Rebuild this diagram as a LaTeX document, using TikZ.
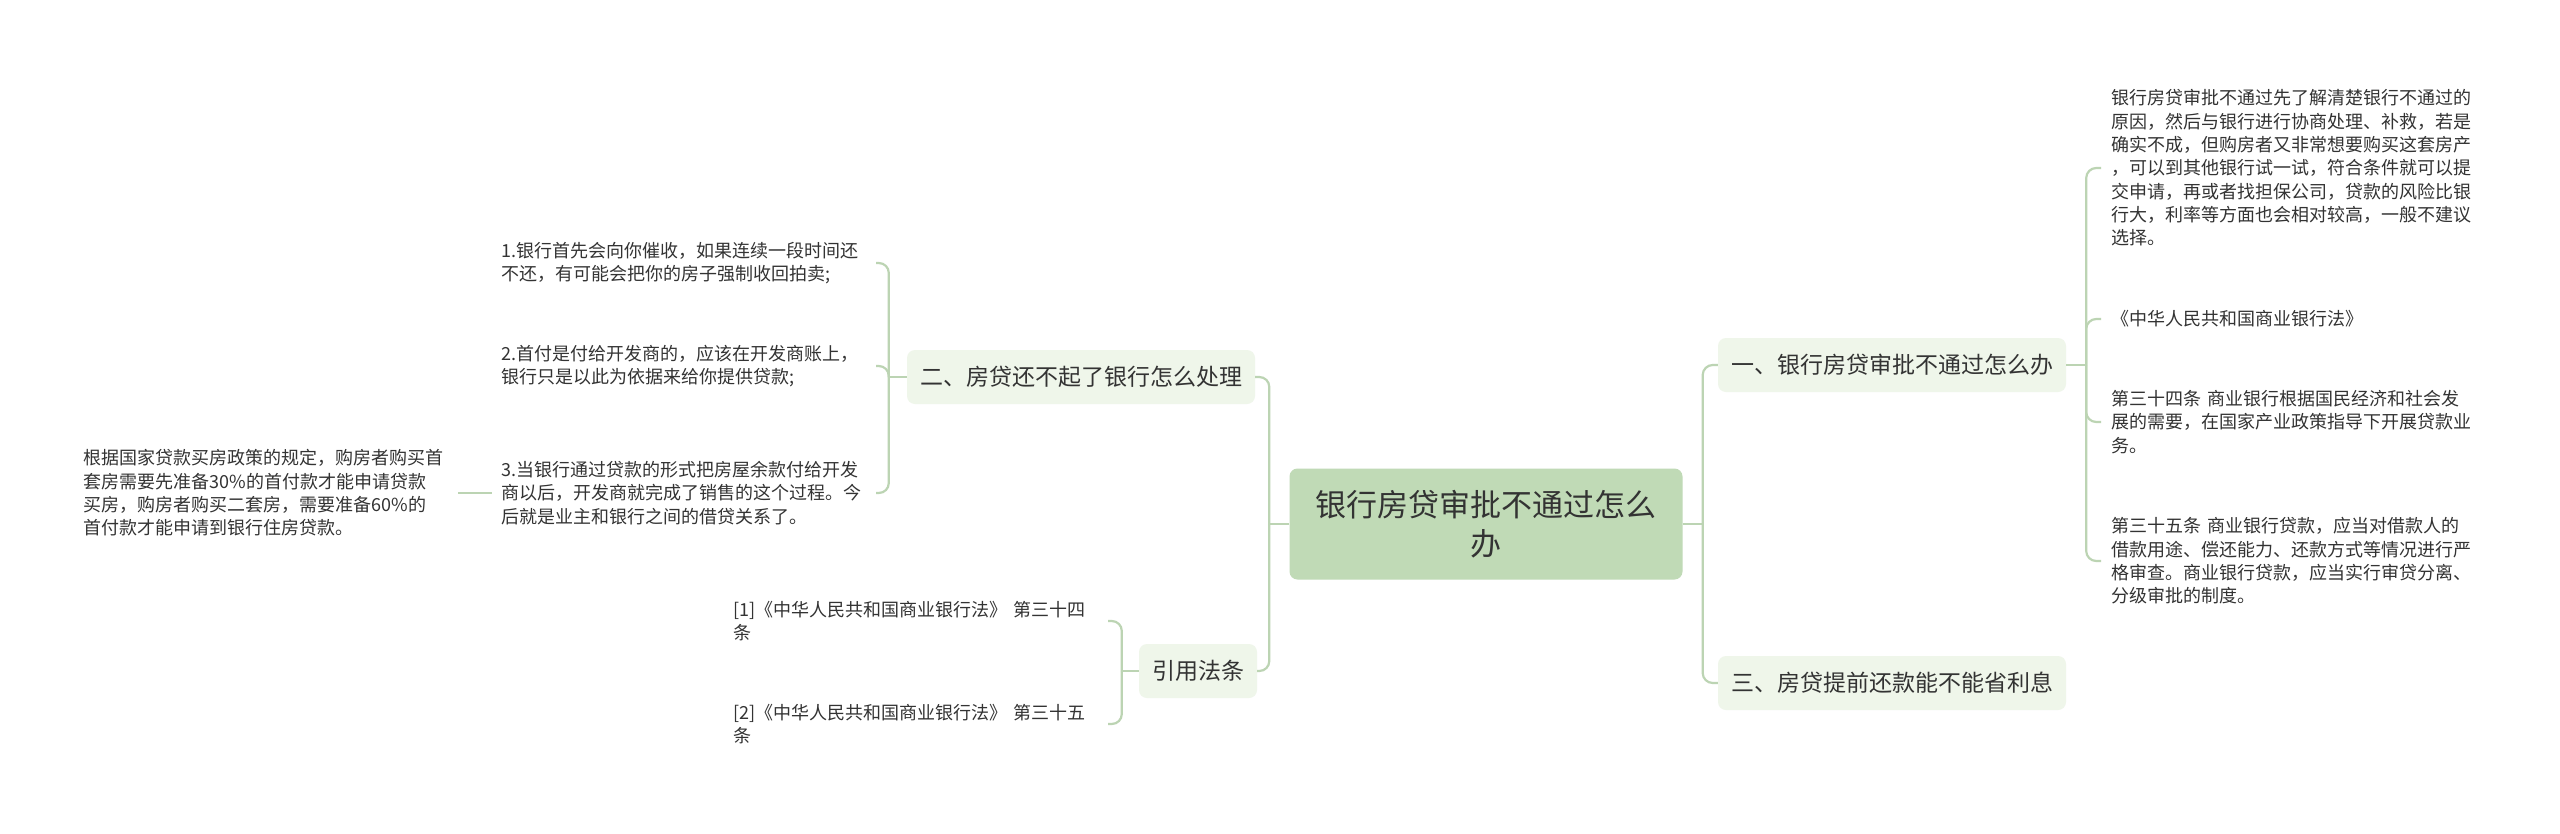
\documentclass[tikz,border=0pt]{standalone}
\usepackage{fontspec}
\newfontfamily\cjk{Noto Sans CJK SC}
\usetikzlibrary{positioning}
\definecolor{mmroot}{HTML}{C0DAB6}
\definecolor{mmbranch}{HTML}{EFF6EA}
\definecolor{mmline}{HTML}{BCD4B3}
\definecolor{mmtext}{HTML}{333333}

\begin{document}
\begin{tikzpicture}[x=1pt, y=-1pt,
  root/.style={fill=mmroot, rounded corners=8pt, minimum width=393pt, minimum height=111pt,
               align=center, text=mmtext, font=\cjk\fontsize{31}{39}\selectfont},
  branch/.style={fill=mmbranch, rounded corners=8pt, minimum height=54pt, inner xsep=13pt,
                 text=mmtext, font=\cjk\fontsize{23}{28}\selectfont},
  leaf/.style={text width=364pt, align=left, inner xsep=10pt, inner ysep=3pt,
               text=mmtext, font=\cjk\fontsize{18}{23.3}\selectfont},
  link/.style={draw=mmline, line width=2.2pt, rounded corners=10pt}
]
  \fill[white] (0,0) rectangle (2560,833);
  \useasboundingbox (0,0) rectangle (2560,833);

  %% Root and main branches
  \node[root] (root) at (1486,524) {银行房贷审批不通过怎么\\办};
  \node[branch] (yi)  at (1892,365) {一、银行房贷审批不通过怎么办};
  \node[branch] (san) at (1892,683) {三、房贷提前还款能不能省利息};
  \node[branch] (er)  at (1081,377) {二、房贷还不起了银行怎么处理};
  \node[branch] (yin) at (1198,671) {引用法条};

  %% Right leaves
  \node[leaf, anchor=west] (yi1) at (2101,168) {银行房贷审批不通过先了解清楚银行不通过的\\原因，然后与银行进行协商处理、补救，若是\\确实不成，但购房者又非常想要购买这套房产\\，可以到其他银行试一试，符合条件就可以提\\交申请，再或者找担保公司，贷款的风险比银\\行大，利率等方面也会相对较高，一般不建议\\选择。};
  \node[leaf, anchor=west] (yi2) at (2101,319) {《中华人民共和国商业银行法》};
  \node[leaf, anchor=west] (yi3) at (2101,422) {第三十四条 商业银行根据国民经济和社会发\\展的需要，在国家产业政策指导下开展贷款业\\务。};
  \node[leaf, anchor=west] (yi4) at (2101,561) {第三十五条 商业银行贷款，应当对借款人的\\借款用途、偿还能力、还款方式等情况进行严\\格审查。商业银行贷款，应当实行审贷分离、\\分级审批的制度。};

  %% Left leaves
  \node[leaf, anchor=east] (er1) at (876,263) {1.银行首先会向你催收，如果连续一段时间还\\不还，有可能会把你的房子强制收回拍卖;};
  \node[leaf, anchor=east] (er2) at (876,366) {2.首付是付给开发商的，应该在开发商账上，\\银行只是以此为依据来给你提供贷款;};
  \node[leaf, anchor=east] (er3) at (876,493) {3.当银行通过贷款的形式把房屋余款付给开发\\商以后，开发商就完成了销售的这个过程。今\\后就是业主和银行之间的借贷关系了。};
  \node[leaf, anchor=east] (er3a) at (458,493) {根据国家贷款买房政策的规定，购房者购买首\\套房需要先准备30\%的首付款才能申请贷款\\买房，购房者购买二套房，需要准备60\%的\\首付款才能申请到银行住房贷款。};
  \node[leaf, anchor=east] (yin1) at (1108,621) {[1]《中华人民共和国商业银行法》~第三十四\\条};
  \node[leaf, anchor=east] (yin2) at (1108,724) {[2]《中华人民共和国商业银行法》~第三十五\\条};

  %% Trunk points
  \coordinate (rootR) at ([xshift=20pt]root.east);
  \coordinate (rootL) at ([xshift=-20pt]root.west);
  \coordinate (yiR)   at ([xshift=20pt]yi.east);
  \coordinate (erL)   at ([xshift=-18pt]er.west);
  \coordinate (yinL)  at ([xshift=-17pt]yin.west);

  %% Connectors
  \draw[link] (root.east) -- (rootR);
  \draw[link] (root.west) -- (rootL);
  \draw[link] (yi.east) -- (yiR);
  \draw[link] (er.west) -- (erL);
  \draw[link] (yin.west) -- (yinL);
  \foreach \b in {yi, san}{
    \draw[link] (rootR) |- (\b.west);
  }
  \foreach \b in {er, yin}{
    \draw[link] (rootL) |- (\b.east);
  }
  \foreach \l in {yi1, yi2, yi3, yi4}{
    \draw[link] (yiR) |- (\l.west);
  }
  \foreach \l in {er1, er2, er3}{
    \draw[link] (erL) |- (\l.east);
  }
  \foreach \l in {yin1, yin2}{
    \draw[link] (yinL) |- (\l.east);
  }
  \draw[link] (er3.west) -- (er3a.east);
\end{tikzpicture}
\end{document}
